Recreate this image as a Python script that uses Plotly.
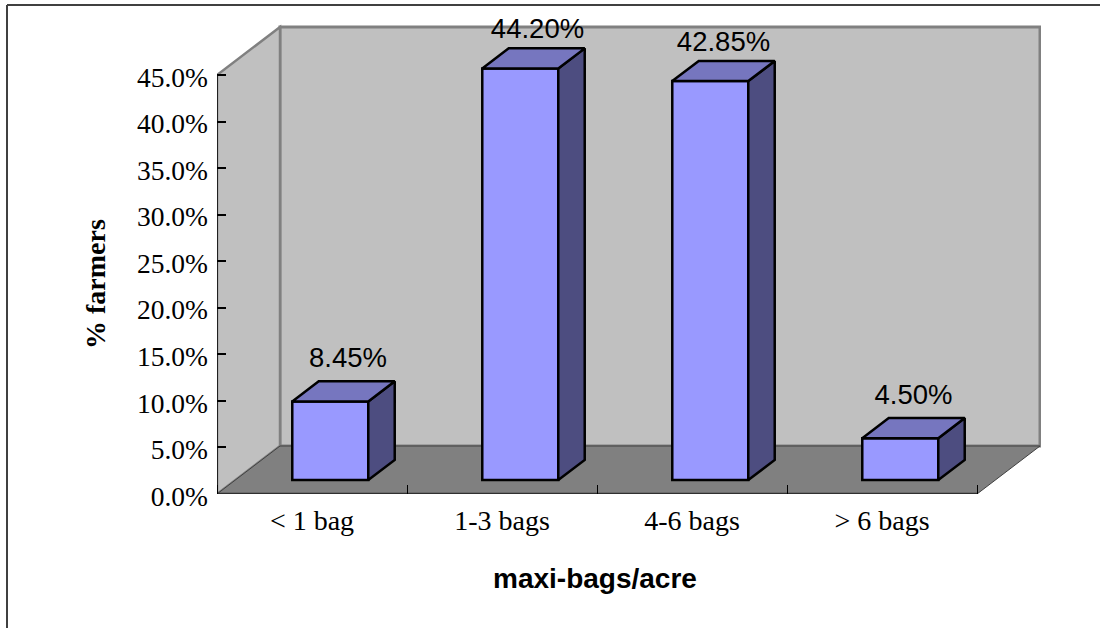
import plotly.graph_objects as go

categories = ["< 1 bag", "1-3 bags", "4-6 bags", "> 6 bags"]
farmers_pct = [8.45, 44.20, 42.85, 4.50]
value_labels = ["8.45%", "44.20%", "42.85%", "4.50%"]
y_ticks = [0, 5, 10, 15, 20, 25, 30, 35, 40, 45]
y_tick_labels = ["0.0%", "5.0%", "10.0%", "15.0%", "20.0%", "25.0%", "30.0%", "35.0%", "40.0%", "45.0%"]

# Pixel frame of the projected box (plot area spans front-left to back-right)
L, R, T, B = 217, 1041, 10, 494
W, H = 1100, 628
PX_X = 190.0              # px per category
PX_Y = (494 - 75) / 45.0  # px per percent
DEPTH_X = 63 / PX_X       # full depth offset in data units
DEPTH_Y = 48 / PX_Y
X_MAX = (R - L) / PX_X
Y_MAX = (B - T) / PX_Y
N = len(categories)
BAR_W = 76 / PX_X
D0, D1 = 0.29, 0.71       # bar depth extent, fraction of box depth

# small label placement nudges, px
LABEL_DX = [4.5, 4, 0, 0]
LABEL_DY = [41, 37, 37, 41]

C_WALL, C_FLOOR, C_EDGE = "#C0C0C0", "#808080", "#808080"
C_FRONT, C_TOP, C_SIDE = "#9999FF", "#7676BF", "#4D4D80"
SERIF, SANS = "Liberation Serif", "Liberation Sans"


def path(points):
    return "M " + " L ".join(f"{x},{y}" for x, y in points) + " Z"


def px(x):
    return (x - L) / (R - L)


def py(y):
    return (B - y) / (B - T)


shapes = [
    dict(type="path", path=path([(DEPTH_X, DEPTH_Y), (N + DEPTH_X, DEPTH_Y), (N + DEPTH_X, 45 + DEPTH_Y), (DEPTH_X, 45 + DEPTH_Y)]),
         fillcolor=C_WALL, line=dict(color=C_EDGE, width=3), layer="below"),
    dict(type="path", path=path([(0, 0), (DEPTH_X, DEPTH_Y), (DEPTH_X, 45 + DEPTH_Y), (0, 45)]),
         fillcolor=C_WALL, line=dict(color=C_EDGE, width=2.5), layer="below"),
    dict(type="path", path=path([(0, 0), (N, 0), (N + DEPTH_X, DEPTH_Y), (DEPTH_X, DEPTH_Y)]),
         fillcolor=C_FLOOR, line=dict(color="#404040", width=1), layer="below"),
    dict(type="line", x0=0, x1=N, y0=0, y1=0, line=dict(color="#303030", width=2.5), layer="below"),
    dict(type="line", x0=0, x1=0, y0=0, y1=45, line=dict(color="#000000", width=1.5)),
    # chart-area border
    dict(type="line", xref="paper", yref="paper", x0=px(7), x1=px(7), y0=py(H), y1=py(5),
         line=dict(color="#404040", width=2)),
    dict(type="line", xref="paper", yref="paper", x0=px(7), x1=px(W), y0=py(5), y1=py(5),
         line=dict(color="#404040", width=2)),
]

fig = go.Figure()
centers = [i + 0.5 + D0 * DEPTH_X for i in range(N)]
base_y = D0 * DEPTH_Y

fig.add_trace(go.Bar(x=centers, y=farmers_pct, base=[base_y] * N, width=BAR_W,
                     marker=dict(color=C_FRONT, line=dict(color="#000000", width=2.5)),
                     showlegend=False, hoverinfo="skip"))

ox = (D1 - D0) * DEPTH_X
oy = (D1 - D0) * DEPTH_Y
for c, v in zip(centers, farmers_pct):
    xl, xr = c - BAR_W / 2, c + BAR_W / 2
    top = base_y + v
    fig.add_trace(go.Scatter(x=[xr, xr + ox, xr + ox, xr, xr], y=[base_y, base_y + oy, top + oy, top, base_y],
                             mode="lines", fill="toself", fillcolor=C_SIDE,
                             line=dict(color="#000000", width=2.5), showlegend=False, hoverinfo="skip"))
    fig.add_trace(go.Scatter(x=[xl, xr, xr + ox, xl + ox, xl], y=[top, top, top + oy, top + oy, top],
                             mode="lines", fill="toself", fillcolor=C_TOP,
                             line=dict(color="#000000", width=2.5), showlegend=False, hoverinfo="skip"))

fig.add_trace(go.Scatter(x=[c + ox / 2 + d / PX_X for c, d in zip(centers, LABEL_DX)],
                         y=[base_y + v + d / PX_Y for v, d in zip(farmers_pct, LABEL_DY)],
                         mode="text", text=value_labels, textposition="middle center",
                         textfont=dict(family=SANS, size=27.5, color="#000000"),
                         cliponaxis=False, showlegend=False, hoverinfo="skip"))

fig.update_layout(
    width=W, height=H, autosize=False,
    margin=dict(l=L, r=W - R, t=T, b=H - B, autoexpand=False),
    paper_bgcolor="#FFFFFF", plot_bgcolor="rgba(0,0,0,0)",
    shapes=shapes, barmode="overlay",
    xaxis=dict(range=[0, X_MAX], tickvals=[i + 0.5 for i in range(N)], ticktext=categories,
               ticks="", showgrid=False, zeroline=False, showline=False,
               tickfont=dict(family=SERIF, size=28, color="#000000"), ticklabelstandoff=7,
               minor=dict(tickvals=list(range(N + 1)), ticks="inside", ticklen=9, tickwidth=1,
                          tickcolor="#000000", showgrid=False)),
    yaxis=dict(range=[0, Y_MAX], tickvals=y_ticks, ticktext=y_tick_labels,
               ticks="inside", ticklen=9, tickwidth=1.5, tickcolor="#000000",
               showgrid=False, zeroline=False, showline=False,
               tickfont=dict(family=SERIF, size=27.5, color="#000000"), ticklabelstandoff=8,
               ticklabelshift=2),
    annotations=[
        dict(text="<b>maxi-bags/acre</b>", xref="paper", yref="paper",
             x=px(595), y=py(578), showarrow=False,
             xanchor="center", yanchor="middle", font=dict(family=SANS, size=28, color="#000000")),
        dict(text="<b>% farmers</b>", xref="paper", yref="paper", textangle=-90,
             x=px(95), y=py(284), showarrow=False,
             xanchor="center", yanchor="middle", font=dict(family=SERIF, size=28, color="#000000")),
    ],
)

fig.write_html("out.html", config=dict(displayModeBar=False),
               post_script="document.body.style.margin='0';document.documentElement.style.overflow='hidden';")
